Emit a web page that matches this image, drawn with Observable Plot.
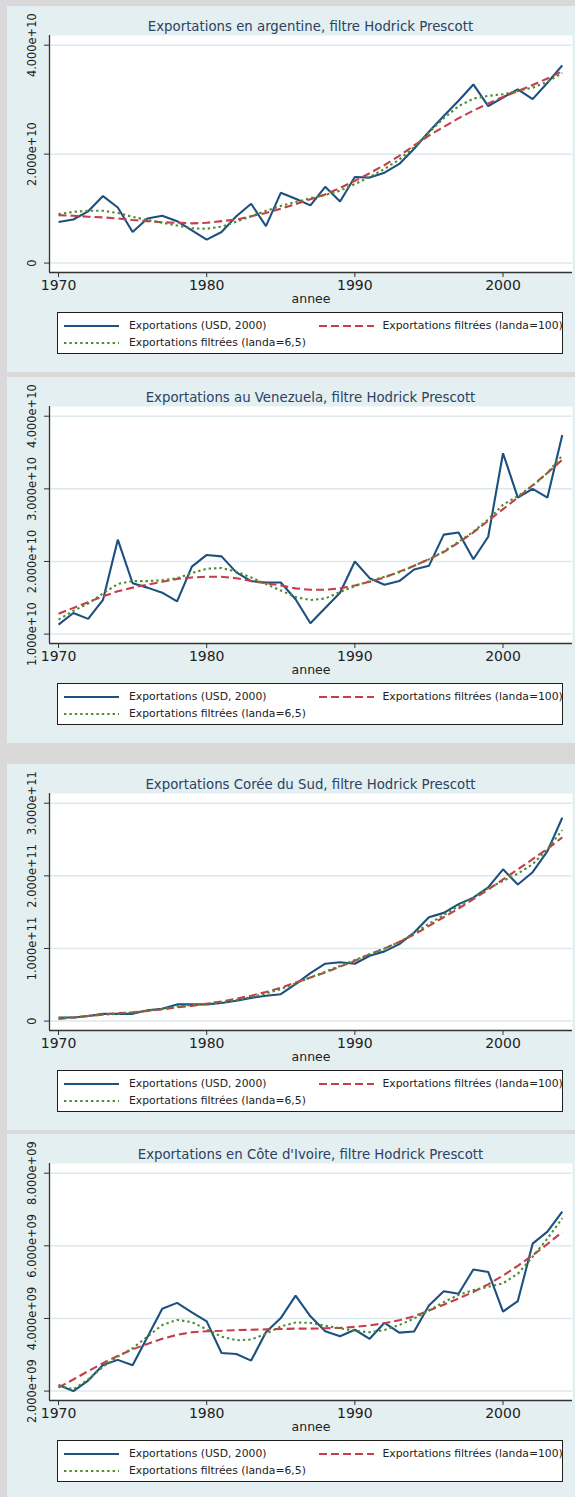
<!DOCTYPE html>
<html>
<head>
<meta charset="utf-8">
<script src="https://cdn.jsdelivr.net/npm/d3@7"></script>
<script src="https://cdn.jsdelivr.net/npm/@observablehq/plot@0.6"></script>
<style>
  html, body { margin: 0; padding: 0; width: 575px; height: 1497px; overflow: hidden; background: #d9d9d9; font-family: "DejaVu Sans", sans-serif; }
  .panel { position: absolute; left: 7px; width: 568px; height: 366px; background: #e4eff1; overflow: hidden; }
  .title { position: absolute; left: 42px; width: 523px; top: 13px; text-align: center; font-size: 13.3px; line-height: 16px; color: #2b4263; white-space: nowrap; }
  .legend { position: absolute; left: 50px; top: 306px; width: 504px; height: 40px; background: #fff; border: 1.5px solid #1e1e1e; font-size: 10.8px; color: #222; }
  .legend .item { position: absolute; white-space: nowrap; line-height: 14px; }
  .legend svg { position: absolute; }
</style>
</head>
<body>
<script>
// ---- data (values in billions of USD, 2000) ----
const years = [1970,1971,1972,1973,1974,1975,1976,1977,1978,1979,1980,1981,1982,1983,1984,1985,1986,1987,1988,1989,1990,1991,1992,1993,1994,1995,1996,1997,1998,1999,2000,2001,2002,2003,2004];
const seriesNames = ["Exportations (USD, 2000)", "Exportations filtrées (landa=100)", "Exportations filtrées (landa=6,5)"];
const xTicks = [1970, 1980, 1990, 2000];

const argTitle = "Exportations en argentine, filtre Hodrick Prescott";
const argExports = [7.55,8.0,9.5,12.3,10.2,5.7,8.2,8.7,7.7,6.0,4.3,5.7,8.6,10.9,6.8,12.9,11.8,10.6,14.0,11.3,15.8,15.7,16.6,18.2,21.0,24.1,27.0,29.8,32.8,28.8,30.4,31.9,30.1,33.1,36.3];
const argHP100 = [8.8,8.7,8.5,8.4,8.2,7.9,7.7,7.5,7.4,7.3,7.4,7.7,8.0,8.6,9.2,10.0,10.8,11.7,12.6,13.8,15.1,16.5,18.0,19.7,21.6,23.4,25.0,26.6,28.0,29.3,30.5,31.6,32.7,33.9,35.2];
const argHP65 = [9.0,9.4,9.6,9.6,9.2,8.5,7.9,7.4,6.9,6.4,6.3,6.7,7.6,8.6,9.6,10.5,11.2,11.9,12.5,13.3,14.5,15.8,17.3,19.0,21.3,24.0,26.6,28.8,30.2,30.7,31.0,31.6,32.2,33.3,34.9];
const argYTicks = [0, 2e10, 4e10];

const venTitle = "Exportations au Venezuela, filtre Hodrick Prescott";
const venExports = [11.3,12.9,12.1,14.7,23.0,17.0,16.4,15.7,14.5,19.3,20.9,20.7,18.5,17.3,17.1,17.1,14.8,11.5,13.6,15.7,20.0,17.7,16.8,17.3,18.9,19.4,23.7,24.0,20.3,23.4,34.9,28.8,30.0,28.8,37.4];
const venHP100 = [12.8,13.6,14.4,15.2,15.9,16.4,16.8,17.2,17.6,17.8,17.9,17.9,17.7,17.3,17.0,16.7,16.3,16.1,16.1,16.3,16.7,17.2,17.8,18.6,19.4,20.3,21.3,22.6,24.0,25.6,27.2,28.8,30.5,32.2,34.0];
const venHP65 = [12.0,13.2,14.2,15.6,16.9,17.3,17.3,17.4,17.7,18.4,19.0,19.1,18.6,17.8,16.9,16.0,15.1,14.7,14.9,15.8,16.6,17.3,17.9,18.5,19.4,20.3,21.4,22.7,24.1,25.8,27.8,29.0,30.4,32.2,34.6];
const venYTicks = [1e10, 2e10, 3e10, 4e10];

const korTitle = "Exportations Corée du Sud, filtre Hodrick Prescott";
const korExports = [5,5,7,10,10,10,15,17,23,23,23,25,28,32,35,37,51,66,79,81,79,90,96,106,122,143,149,161,170,184,209,188,205,234,280];
const korHP100 = [3,5,7,9,11,12,14,16,19,21,24,27,31,35,40,46,53,60,67,75,83,92,100,109,119,131,143,155,168,181,195,209,223,237,253];
const korHP65 = [4,5,7,9,10,12,14,17,20,22,24,26,29,33,38,44,52,60,68,76,84,92,100,109,121,134,146,158,170,183,193,203,216,237,263];
const korYTicks = [0, 1e11, 2e11, 3e11];

const civTitle = "Exportations en Côte d'Ivoire, filtre Hodrick Prescott";
const civExports = [2.17,2.00,2.29,2.72,2.86,2.71,3.49,4.27,4.43,4.17,3.92,3.05,3.02,2.84,3.62,4.01,4.63,4.06,3.65,3.51,3.69,3.44,3.88,3.61,3.64,4.36,4.75,4.68,5.35,5.28,4.19,4.48,6.06,6.39,6.94];
const civHP100 = [2.10,2.32,2.55,2.77,2.97,3.15,3.30,3.44,3.55,3.62,3.65,3.66,3.68,3.69,3.70,3.71,3.72,3.72,3.73,3.74,3.77,3.81,3.87,3.95,4.06,4.22,4.38,4.55,4.73,4.94,5.18,5.45,5.74,6.05,6.38];
const civHP65 = [2.15,2.05,2.32,2.67,2.95,3.18,3.50,3.82,3.96,3.90,3.70,3.50,3.40,3.42,3.58,3.78,3.89,3.88,3.80,3.73,3.66,3.62,3.68,3.82,4.00,4.22,4.45,4.65,4.78,4.87,4.97,5.23,5.70,6.20,6.76];
const civYTicks = [2e9, 4e9, 6e9, 8e9];

// ---- styles ----
const styles = [
  {color: "#1c5080", width: 2.1, dash: null},
  {color: "#c43f4a", width: 2.1, dash: "8,4"},
  {color: "#4f8c30", width: 2.1, dash: "2.4,3"}
];

const panels = [
  {top: 6, title: argTitle, series: [argExports, argHP100, argHP65], ticks: argYTicks},
  {top: 377, title: venTitle, series: [venExports, venHP100, venHP65], ticks: venYTicks},
  {top: 764, title: korTitle, series: [korExports, korHP100, korHP65], ticks: korYTicks},
  {top: 1134, title: civTitle, series: [civExports, civHP100, civHP65], ticks: civYTicks}
];

function fmt(v) {
  if (v === 0) return "0";
  return v.toExponential(3).replace(/e\+(\d)$/, "e+0$1");
}

const W = 568, H = 271, mL = 42, mR = 3, mT = 0, mB = 34;
const xDomain = [1969.39, 2004.69];

for (const p of panels) {
  const panel = document.createElement("div");
  panel.className = "panel";
  panel.style.top = p.top + "px";
  document.body.appendChild(panel);

  const t = document.createElement("div");
  t.className = "title";
  t.textContent = p.title;
  panel.appendChild(t);

  const lo = p.ticks[0], hi = p.ticks[p.ticks.length - 1], span = hi - lo;
  const yDomain = [lo - 0.0431 * span, hi + 0.0445 * span];

  const rows = [];
  p.series.forEach((arr, s) => arr.forEach((v, i) => rows.push({s, year: years[i], value: v * 1e9})));

  const chart = Plot.plot({
    width: W, height: H,
    marginLeft: mL, marginRight: mR, marginTop: mT, marginBottom: mB,
    style: {background: "transparent", fontFamily: "DejaVu Sans", color: "#222", overflow: "visible"},
    x: {domain: xDomain, axis: null},
    y: {domain: yDomain, axis: null},
    marks: [
      Plot.frame({fill: "#ffffff", stroke: null}),
      Plot.ruleY(p.ticks, {stroke: "#dde9ec", strokeWidth: 1.5}),
      ...styles.map((st, s) => Plot.line(rows.filter(r => r.s === s), {
        x: "year", y: "value", stroke: st.color, strokeWidth: st.width,
        strokeDasharray: st.dash, strokeLinejoin: "miter", strokeLinecap: "butt"
      })),
      Plot.axisX({ticks: xTicks, tickSize: 5, tickPadding: 3, fontSize: 14, tickFormat: d => String(d), label: null, stroke: "#333", color: "#222"}),
      Plot.axisY({ticks: p.ticks, tickSize: 5, tickFormat: () => "", label: null, stroke: "#333"}),
      Plot.text(p.ticks, {y: d => d, text: d => fmt(d), frameAnchor: "left", rotate: -90, dx: -14, textAnchor: "middle", lineAnchor: "bottom", fontSize: 11.4, fill: "#222"}),
      Plot.text(["annee"], {text: d => d, frameAnchor: "bottom", dy: 26, fontSize: 12.5, fill: "#222", lineAnchor: "middle"}),
      Plot.ruleX([xDomain[0]], {stroke: "#333", strokeWidth: 1.3}),
      Plot.ruleY([yDomain[0]], {stroke: "#333", strokeWidth: 1.3})
    ]
  });
  chart.style.position = "absolute";
  chart.style.top = "29px";
  chart.style.left = "0px";
  panel.appendChild(chart);

  // legend
  const lg = document.createElement("div");
  lg.className = "legend";
  const items = [
    {s: 0, lx: 6, tx: 71, cy: 12.5},
    {s: 1, lx: 261, tx: 324.5, cy: 12.5},
    {s: 2, lx: 6, tx: 71, cy: 30}
  ];
  for (const it of items) {
    const st = styles[it.s];
    const svgNS = "http://www.w3.org/2000/svg";
    const sv = document.createElementNS(svgNS, "svg");
    sv.setAttribute("width", 56); sv.setAttribute("height", 6);
    sv.style.left = it.lx + "px"; sv.style.top = (it.cy - 3) + "px";
    const ln = document.createElementNS(svgNS, "line");
    ln.setAttribute("x1", 0); ln.setAttribute("x2", 55); ln.setAttribute("y1", 3); ln.setAttribute("y2", 3);
    ln.setAttribute("stroke", st.color); ln.setAttribute("stroke-width", st.width);
    if (st.dash) ln.setAttribute("stroke-dasharray", st.dash);
    sv.appendChild(ln);
    lg.appendChild(sv);
    const tx = document.createElement("div");
    tx.className = "item";
    tx.style.left = it.tx + "px";
    tx.style.top = (it.cy - 7) + "px";
    tx.textContent = seriesNames[it.s];
    lg.appendChild(tx);
  }
  panel.appendChild(lg);
}
</script>
</body>
</html>
